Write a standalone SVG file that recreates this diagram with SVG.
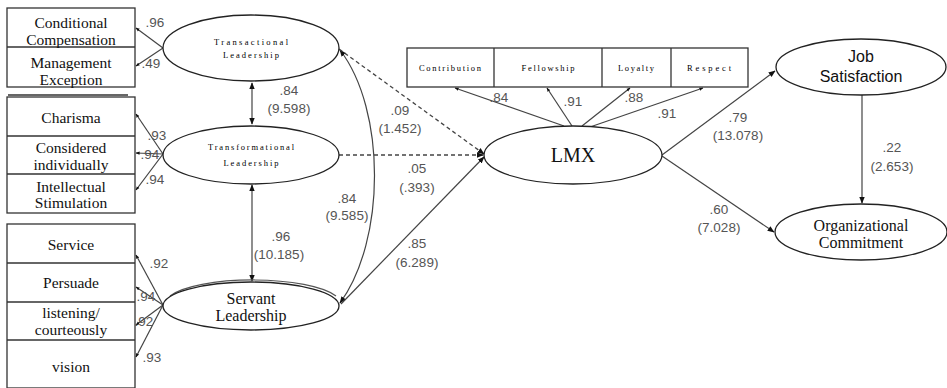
<svg xmlns="http://www.w3.org/2000/svg" width="947" height="388" viewBox="0 0 947 388">
<defs>
<marker id="ah" viewBox="0 0 10 10" refX="9" refY="5" markerWidth="7" markerHeight="7" orient="auto-start-reverse" markerUnits="userSpaceOnUse"><path d="M0,1 L10,5 L0,9 z" fill="#111"/></marker>
<marker id="as" viewBox="0 0 10 10" refX="9" refY="5" markerWidth="4" markerHeight="4" orient="auto" markerUnits="userSpaceOnUse"><path d="M0,1 L10,5 L0,9 z" fill="#111"/></marker>
</defs>
<style>
.box{fill:#fff;stroke:#333;stroke-width:1.3}
.ell{fill:#fff;stroke:#222;stroke-width:1.3}
.bt{font-family:"Liberation Serif","DejaVu Serif",serif;font-size:15.5px;fill:#111;text-anchor:middle}
.st{font-family:"Liberation Serif","DejaVu Serif",serif;font-size:8.5px;fill:#000;text-anchor:middle}
.et{font-family:"Liberation Serif","DejaVu Serif",serif;font-size:16px;fill:#111;text-anchor:middle}
.ss{font-family:"Liberation Sans",sans-serif;font-size:16px;fill:#111;text-anchor:middle}
.num{font-family:"Liberation Sans",sans-serif;font-size:13.5px;fill:#555;text-anchor:middle}
.ln{stroke:#444;stroke-width:1.2;fill:none}
.dash{stroke:#444;stroke-width:1.3;fill:none;stroke-dasharray:4,3}
</style>
<rect width="947" height="388" fill="#fff"/>

<g id="connectors">
<line class="ln" x1="163" y1="48" x2="136" y2="28" marker-end="url(#as)"/>
<line class="ln" x1="163" y1="48" x2="136" y2="66" marker-end="url(#as)"/>
<line class="ln" x1="163" y1="154" x2="136" y2="114" marker-end="url(#as)"/>
<line class="ln" x1="163" y1="154" x2="136" y2="153" marker-end="url(#as)"/>
<line class="ln" x1="163" y1="154" x2="136" y2="190" marker-end="url(#as)"/>
<line class="ln" x1="163" y1="305" x2="136" y2="255" marker-end="url(#as)"/>
<line class="ln" x1="163" y1="305" x2="136" y2="287" marker-end="url(#as)"/>
<line class="ln" x1="163" y1="305" x2="136" y2="325" marker-end="url(#as)"/>
<line class="ln" x1="163" y1="305" x2="136" y2="357" marker-end="url(#as)"/>
<line class="ln" x1="564" y1="126" x2="455" y2="88" marker-end="url(#as)"/>
<line class="ln" x1="572" y1="126" x2="547" y2="88" marker-end="url(#as)"/>
<line class="ln" x1="582" y1="126" x2="630" y2="88" marker-end="url(#as)"/>
<line class="ln" x1="590" y1="127" x2="703" y2="88" marker-end="url(#as)"/>
<line class="ln" x1="252" y1="83" x2="252" y2="124" marker-start="url(#ah)" marker-end="url(#ah)"/>
<line class="ln" x1="252" y1="185" x2="252" y2="281" marker-start="url(#ah)" marker-end="url(#ah)"/>
<path class="ln" d="M340,50 C386,110 386,240 340,303" marker-start="url(#ah)" marker-end="url(#ah)"/>
<line class="dash" x1="339" y1="49" x2="484" y2="154" marker-end="url(#ah)"/>
<line class="dash" x1="339" y1="155" x2="483" y2="155" marker-end="url(#ah)"/>
<line class="ln" x1="341" y1="304" x2="484" y2="157" marker-end="url(#ah)"/>
<line class="ln" x1="662" y1="155" x2="775" y2="71" marker-end="url(#ah)"/>
<line class="ln" x1="662" y1="156" x2="774" y2="232" marker-end="url(#ah)"/>
<line class="ln" x1="862" y1="95" x2="862" y2="203" marker-end="url(#ah)"/>
</g>

<g id="labels">
<text class="num" x="155" y="27">.96</text>
<text class="num" x="151" y="68">.49</text>
<text class="num" x="157" y="140">.93</text>
<text class="num" x="150" y="159">.94</text>
<text class="num" x="155" y="184">.94</text>
<text class="num" x="159" y="268">.92</text>
<text class="num" x="146" y="301">.94</text>
<text class="num" x="144" y="326">.92</text>
<text class="num" x="152" y="362">.93</text>
<text class="num" x="289" y="95">.84</text>
<text class="num" x="289" y="113">(9.598)</text>
<text class="num" x="281" y="241">.96</text>
<text class="num" x="279" y="259">(10.185)</text>
<text class="num" x="347" y="203">.84</text>
<text class="num" x="347" y="220">(9.585)</text>
<text class="num" x="400" y="115">.09</text>
<text class="num" x="400" y="133">(1.452)</text>
<text class="num" x="417" y="173">.05</text>
<text class="num" x="417" y="192">(.393)</text>
<text class="num" x="417" y="248">.85</text>
<text class="num" x="417" y="267">(6.289)</text>
<text class="num" x="499" y="102">.84</text>
<text class="num" x="573" y="106">.91</text>
<text class="num" x="634" y="102">.88</text>
<text class="num" x="667" y="118">.91</text>
<text class="num" x="738" y="122">.79</text>
<text class="num" x="738" y="140">(13.078)</text>
<text class="num" x="719" y="214">.60</text>
<text class="num" x="719" y="232">(7.028)</text>
<text class="num" x="892" y="152">.22</text>
<text class="num" x="892" y="171">(2.653)</text>
</g>

<g id="box-transactional-indicators">
<rect class="box" x="7" y="8" width="128" height="79"/>
<line class="box" x1="7" y1="47" x2="135" y2="47"/>
<text class="bt" x="71" y="28">Conditional</text>
<text class="bt" x="71" y="45">Compensation</text>
<text class="bt" x="71" y="68">Management</text>
<text class="bt" x="71" y="85">Exception</text>
</g>

<g id="box-transformational-indicators">
<line class="box" x1="8" y1="95" x2="128" y2="95"/>
<rect class="box" x="7" y="97" width="128" height="116"/>
<line class="box" x1="7" y1="136" x2="135" y2="136"/>
<line class="box" x1="7" y1="174" x2="135" y2="174"/>
<text class="bt" x="71" y="123">Charisma</text>
<text class="bt" x="71" y="153">Considered</text>
<text class="bt" x="71" y="170">individually</text>
<text class="bt" x="71" y="192">Intellectual</text>
<text class="bt" x="71" y="208">Stimulation</text>
</g>

<g id="box-servant-indicators">
<rect class="box" x="7" y="224" width="128" height="164"/>
<line class="box" x1="7" y1="263" x2="135" y2="263"/>
<line class="box" x1="7" y1="302" x2="135" y2="302"/>
<line class="box" x1="7" y1="340" x2="135" y2="340"/>
<text class="bt" x="71" y="250">Service</text>
<text class="bt" x="71" y="288">Persuade</text>
<text class="bt" x="71" y="318">listening/</text>
<text class="bt" x="71" y="335">courteously</text>
<text class="bt" x="71" y="372">vision</text>
</g>

<g id="box-lmx-indicators">
<rect class="box" x="407" y="48" width="341" height="39"/>
<line class="box" x1="494" y1="48" x2="494" y2="87"/>
<line class="box" x1="602" y1="48" x2="602" y2="87"/>
<line class="box" x1="671" y1="48" x2="671" y2="87"/>
<text class="st" x="450" y="71" textLength="62" lengthAdjust="spacing">Contribution</text>
<text class="st" x="548" y="71" textLength="53" lengthAdjust="spacing">Fellowship</text>
<text class="st" x="636" y="71" textLength="36" lengthAdjust="spacing">Loyalty</text>
<text class="st" x="709" y="71" textLength="44" lengthAdjust="spacing">Respect</text>
</g>

<g id="node-transactional">
<ellipse class="ell" cx="251" cy="48" rx="88" ry="33"/>
<text class="st" x="251" y="45" textLength="74" lengthAdjust="spacing">Transactional</text>
<text class="st" x="251" y="58" textLength="56" lengthAdjust="spacing">Leadership</text>
</g>

<g id="node-transformational">
<ellipse class="ell" cx="251" cy="155" rx="88" ry="29"/>
<text class="st" x="251" y="150" textLength="86" lengthAdjust="spacing">Transformational</text>
<text class="st" x="251" y="166" textLength="55" lengthAdjust="spacing">Leadership</text>
</g>

<g id="node-servant">
<path d="M170,296 A88,24 0 0 1 336,296" fill="none" stroke="#555" stroke-width="1.2"/>
<ellipse class="ell" cx="251" cy="306" rx="88" ry="24"/>
<text class="et" x="251" y="304">Servant</text>
<text class="et" x="251" y="321">Leadership</text>
</g>

<g id="node-lmx">
<ellipse class="ell" cx="573" cy="155" rx="89" ry="29"/>
<text class="et" x="573" y="162" style="font-size:20px">LMX</text>
</g>

<g id="node-job">
<ellipse class="ell" cx="861" cy="67" rx="85" ry="28"/>
<text class="ss" x="861" y="62">Job</text>
<text class="ss" x="861" y="82">Satisfaction</text>
</g>

<g id="node-org">
<ellipse class="ell" cx="861" cy="232" rx="86" ry="28"/>
<text class="et" x="861" y="231">Organizational</text>
<text class="et" x="861" y="248">Commitment</text>
</g>
</svg>
